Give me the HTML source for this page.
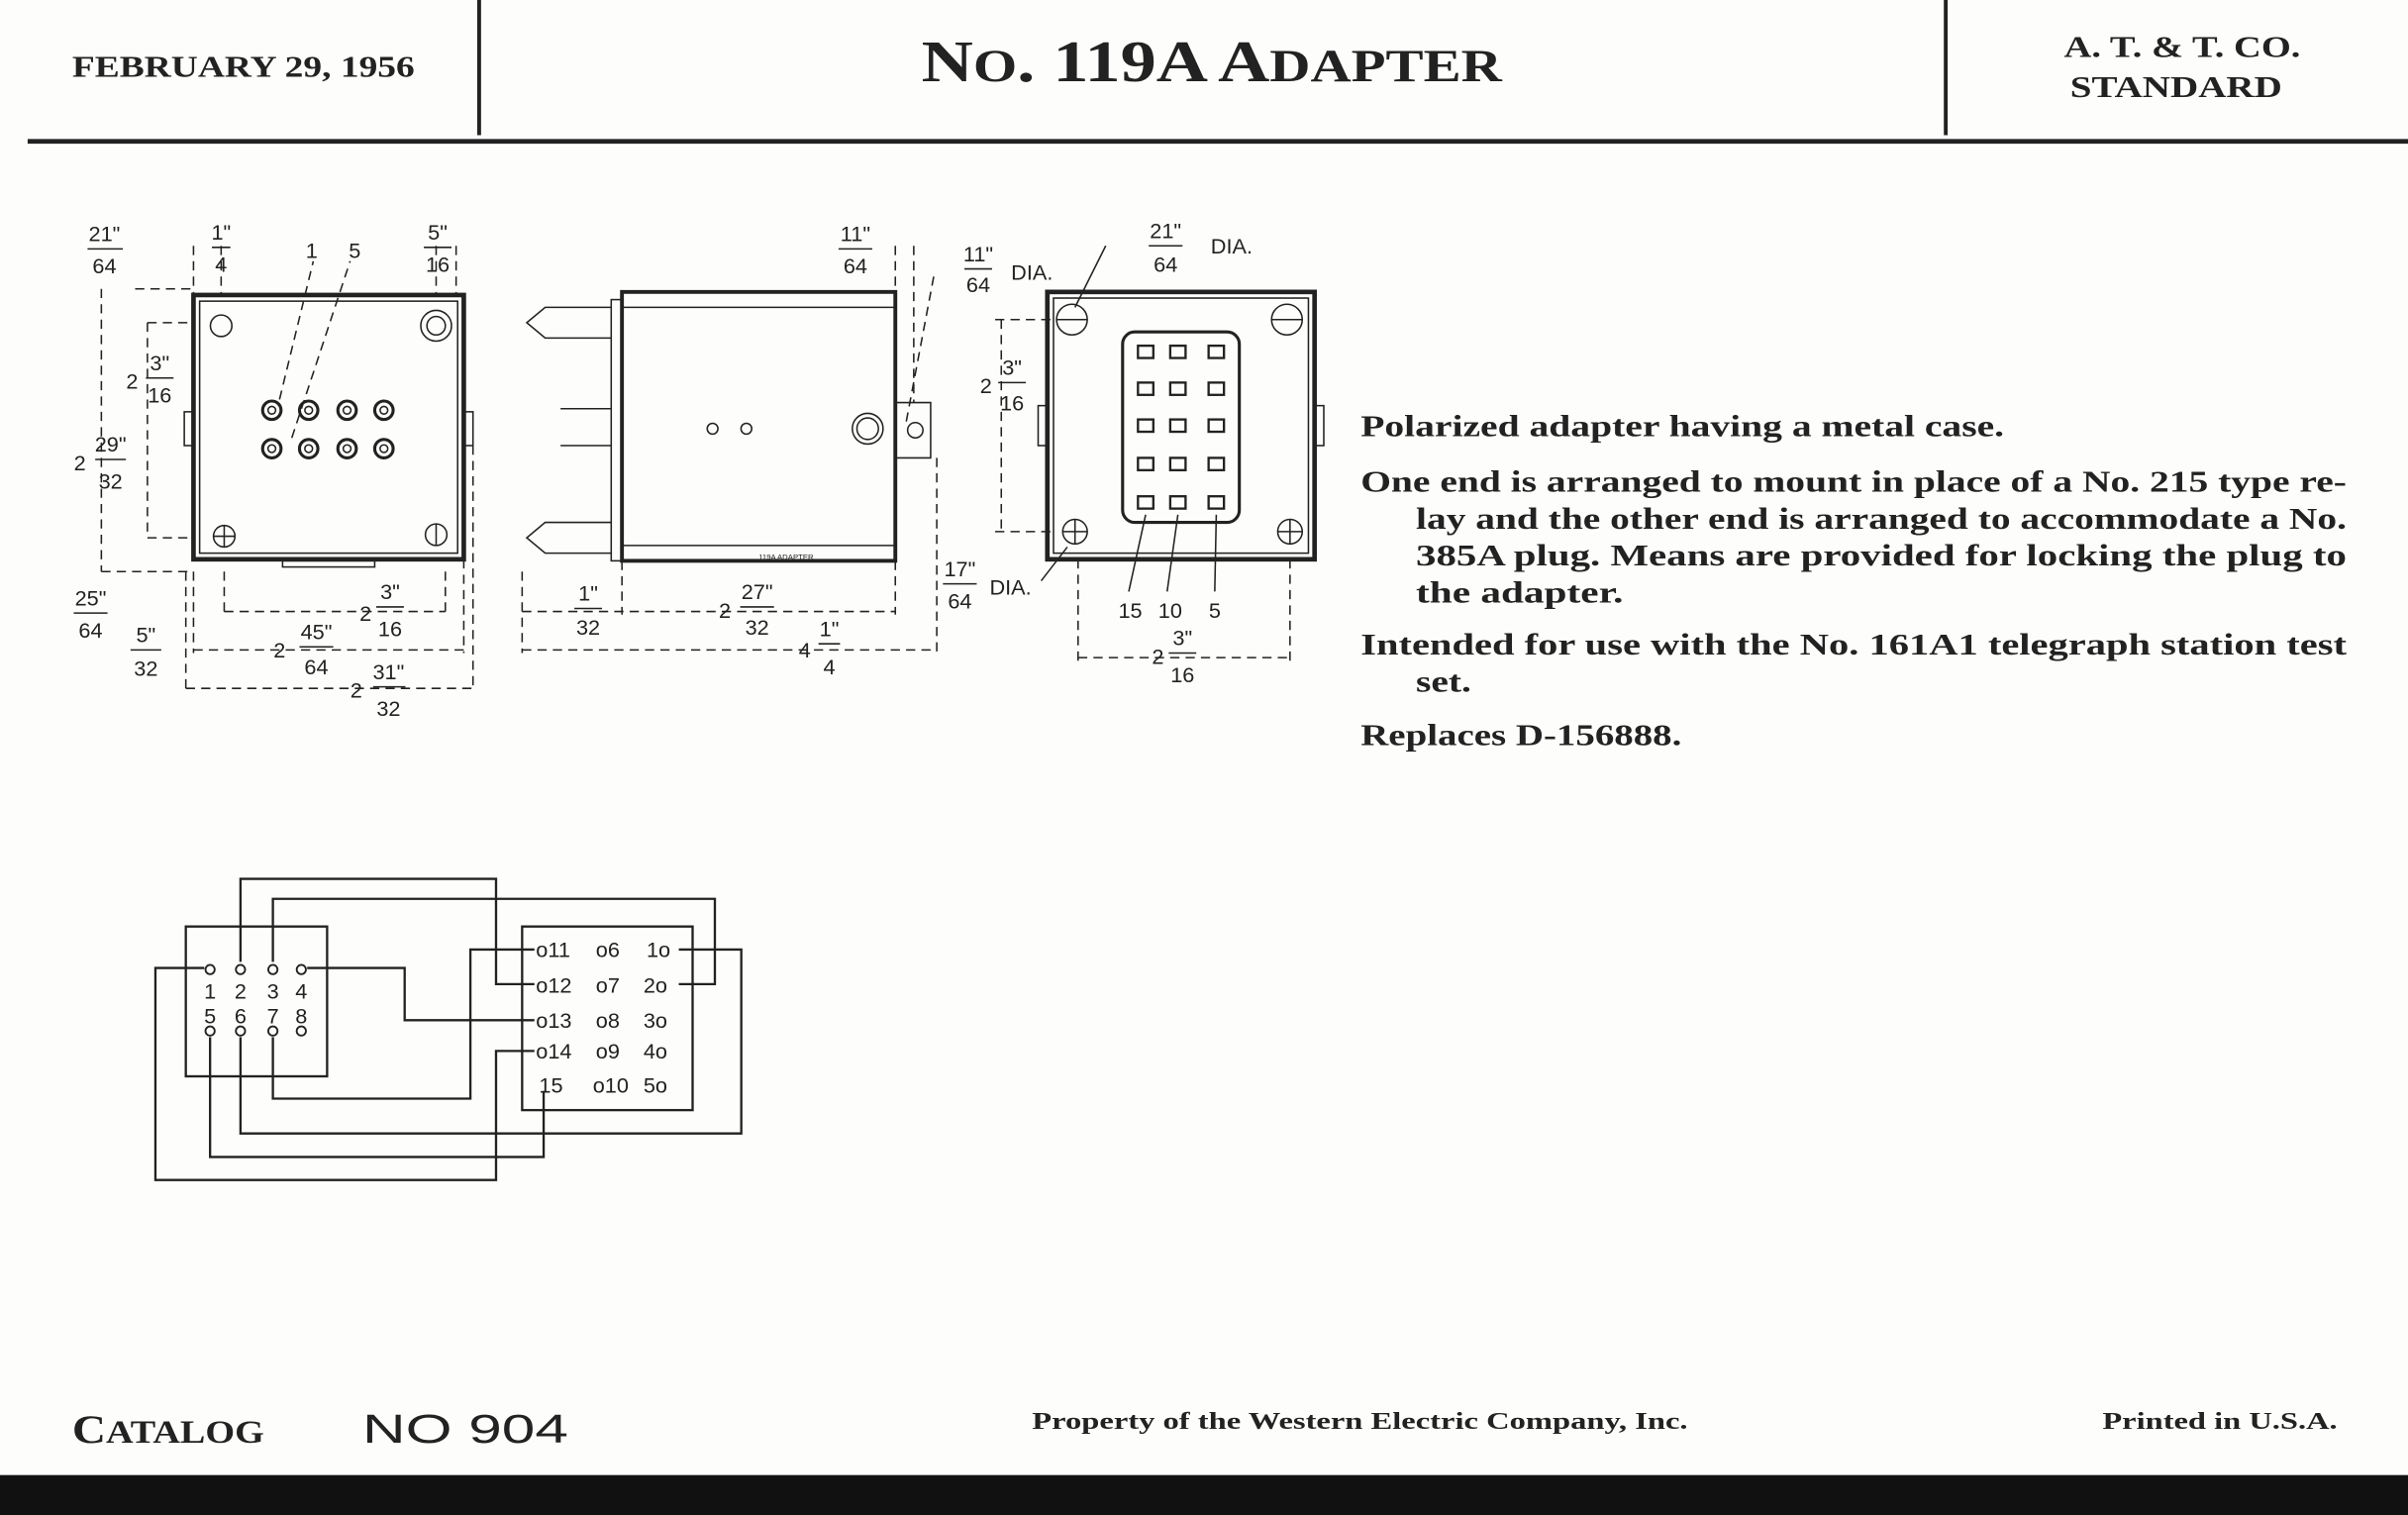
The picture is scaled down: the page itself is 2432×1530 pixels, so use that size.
<!DOCTYPE html>
<html><head><meta charset="utf-8"><style>
html,body{margin:0;padding:0;background:#fdfdfb;}
svg{display:block}
.s{font-family:"Liberation Serif",serif;font-weight:bold;fill:#222}
.d{font-family:"Liberation Sans",sans-serif;fill:#222}
</style></head><body>
<svg width="2432" height="1530" viewBox="0 0 1568 986" preserveAspectRatio="none" xmlns="http://www.w3.org/2000/svg">
<rect width="1568" height="986" fill="#fdfdfb"/>
<rect x="0" y="960" width="1568" height="26" fill="#111"/>
<!-- header -->
<line x1="312" y1="0" x2="312" y2="88" stroke="#222" stroke-width="2.5"/>
<line x1="1267" y1="0" x2="1267" y2="88" stroke="#222" stroke-width="2.5"/>
<line x1="18" y1="92" x2="1568" y2="92" stroke="#222" stroke-width="3"/>
<text class="s" x="47" y="50" font-size="20" textLength="223" lengthAdjust="spacingAndGlyphs">FEBRUARY 29, 1956</text>
<text class="s" x="600" y="53" font-size="38" textLength="378" lengthAdjust="spacingAndGlyphs">N<tspan font-size="30">O</tspan>. 119A A<tspan font-size="30">DAPTER</tspan></text>
<text class="s" x="1344" y="37" font-size="20" textLength="154" lengthAdjust="spacingAndGlyphs">A. T. &amp; T. CO.</text>
<text class="s" x="1348" y="63" font-size="20" textLength="138" lengthAdjust="spacingAndGlyphs">STANDARD</text>

<g stroke="#222" fill="none">
<!-- view 1 -->
<rect x="126" y="192" width="176" height="172" stroke-width="3"/>
<rect x="130" y="196" width="168" height="164" stroke-width="1"/>
<rect x="120" y="268" width="6" height="22"/><rect x="302" y="268" width="6" height="22"/>
<circle cx="144" cy="212" r="7"/><circle cx="284" cy="212" r="10"/><circle cx="284" cy="212" r="6"/>
<circle cx="146" cy="349" r="7"/><circle cx="284" cy="348" r="7"/>
<line x1="146" y1="342" x2="146" y2="356"/><line x1="139" y1="349" x2="153" y2="349"/>
<line x1="284" y1="341" x2="284" y2="355"/>
<g stroke-width="2">
<circle cx="177" cy="267" r="6"/><circle cx="201" cy="267" r="6"/><circle cx="226" cy="267" r="6"/><circle cx="250" cy="267" r="6"/>
<circle cx="177" cy="292" r="6"/><circle cx="201" cy="292" r="6"/><circle cx="226" cy="292" r="6"/><circle cx="250" cy="292" r="6"/>
</g>
<g stroke-width="1">
<circle cx="177" cy="267" r="2.5"/><circle cx="201" cy="267" r="2.5"/><circle cx="226" cy="267" r="2.5"/><circle cx="250" cy="267" r="2.5"/>
<circle cx="177" cy="292" r="2.5"/><circle cx="201" cy="292" r="2.5"/><circle cx="226" cy="292" r="2.5"/><circle cx="250" cy="292" r="2.5"/>
</g>
<rect x="184" y="365" width="60" height="4"/>
<g stroke-dasharray="6,4" stroke-width="1">
<line x1="88" y1="188" x2="126" y2="188"/><line x1="96" y1="210" x2="126" y2="210"/>
<line x1="96" y1="350" x2="126" y2="350"/><line x1="66" y1="372" x2="126" y2="372"/>
<line x1="96" y1="210" x2="96" y2="350"/><line x1="66" y1="188" x2="66" y2="372"/>
<line x1="121" y1="372" x2="121" y2="450"/><line x1="126" y1="372" x2="126" y2="425"/>
<line x1="146" y1="372" x2="146" y2="400"/><line x1="290" y1="372" x2="290" y2="400"/>
<line x1="302" y1="364" x2="302" y2="425"/><line x1="308" y1="290" x2="308" y2="450"/>
<line x1="146" y1="398" x2="290" y2="398"/><line x1="126" y1="423" x2="302" y2="423"/>
<line x1="121" y1="448" x2="308" y2="448"/>
<line x1="144" y1="160" x2="144" y2="192"/><line x1="126" y1="160" x2="126" y2="192"/>
<line x1="284" y1="160" x2="284" y2="192"/><line x1="297" y1="160" x2="297" y2="192"/>
<line x1="182" y1="260" x2="204" y2="170"/><line x1="190" y1="285" x2="228" y2="170"/>
</g>
<!-- view 2 -->
<rect x="405" y="190" width="178" height="175" stroke-width="2.5"/>
<line x1="405" y1="200" x2="583" y2="200" stroke-width="1"/>
<line x1="405" y1="355" x2="583" y2="355" stroke-width="1"/>
<rect x="398" y="195" width="7" height="170"/>
<path d="M398 200 H355 L343 210 L355 220 H398"/><path d="M398 340 H355 L343 350 L355 360 H398"/>
<line x1="365" y1="266" x2="398" y2="266"/><line x1="365" y1="290" x2="398" y2="290"/>
<circle cx="464" cy="279" r="3.5"/><circle cx="486" cy="279" r="3.5"/>
<circle cx="565" cy="279" r="10"/><circle cx="565" cy="279" r="7"/>
<path d="M583 262 H606 V298 H583"/><circle cx="596" cy="280" r="5"/>
<g stroke-dasharray="6,4" stroke-width="1">
<line x1="583" y1="160" x2="583" y2="190"/><line x1="595" y1="160" x2="595" y2="262"/>
<line x1="608" y1="180" x2="590" y2="275"/>
<line x1="610" y1="298" x2="610" y2="425"/><line x1="340" y1="372" x2="340" y2="425"/>
<line x1="405" y1="365" x2="405" y2="400"/><line x1="583" y1="365" x2="583" y2="400"/>
<line x1="340" y1="398" x2="583" y2="398"/><line x1="340" y1="423" x2="610" y2="423"/>
</g>
<!-- view 3 -->
<rect x="682" y="190" width="174" height="174" stroke-width="3"/>
<rect x="686" y="194" width="166" height="166" stroke-width="1"/>
<rect x="676" y="264" width="6" height="26"/><rect x="856" y="264" width="6" height="26"/>
<circle cx="698" cy="208" r="10"/><circle cx="838" cy="208" r="10"/>
<line x1="688" y1="208" x2="708" y2="208"/><line x1="828" y1="208" x2="848" y2="208"/>
<circle cx="700" cy="346" r="8"/><circle cx="840" cy="346" r="8"/>
<line x1="700" y1="338" x2="700" y2="354"/><line x1="692" y1="346" x2="708" y2="346"/>
<line x1="840" y1="338" x2="840" y2="354"/><line x1="832" y1="346" x2="848" y2="346"/>
<rect x="731" y="216" width="76" height="124" rx="8" stroke-width="2"/>
<g stroke-width="1.5">
<rect x="741" y="225" width="10" height="8"/><rect x="762" y="225" width="10" height="8"/><rect x="787" y="225" width="10" height="8"/>
<rect x="741" y="249" width="10" height="8"/><rect x="762" y="249" width="10" height="8"/><rect x="787" y="249" width="10" height="8"/>
<rect x="741" y="273" width="10" height="8"/><rect x="762" y="273" width="10" height="8"/><rect x="787" y="273" width="10" height="8"/>
<rect x="741" y="298" width="10" height="8"/><rect x="762" y="298" width="10" height="8"/><rect x="787" y="298" width="10" height="8"/>
<rect x="741" y="323" width="10" height="8"/><rect x="762" y="323" width="10" height="8"/><rect x="787" y="323" width="10" height="8"/>
</g>
<g stroke-width="1">
<line x1="746" y1="335" x2="735" y2="385"/><line x1="767" y1="335" x2="760" y2="385"/><line x1="792" y1="335" x2="791" y2="385"/>
<line x1="720" y1="160" x2="700" y2="200"/><line x1="678" y1="378" x2="695" y2="356"/>
</g>
<g stroke-dasharray="6,4" stroke-width="1">
<line x1="648" y1="208" x2="688" y2="208"/><line x1="648" y1="346" x2="688" y2="346"/>
<line x1="652" y1="208" x2="652" y2="346"/>
<line x1="702" y1="364" x2="702" y2="430"/><line x1="840" y1="364" x2="840" y2="430"/>
<line x1="702" y1="428" x2="840" y2="428"/>
</g>
<!-- wiring -->
<g stroke-width="1.5">
<rect x="121" y="603" width="92" height="97.5"/>
<rect x="340" y="603" width="111" height="119.5"/>
<polyline points="156.6,626 156.6,572 323,572 323,640.5 348,640.5"/>
<polyline points="177.7,626 177.7,585 465.5,585 465.5,640.5 442,640.5"/>
<polyline points="200,630 263.5,630 263.5,664 348,664"/>
<polyline points="133,630 101.2,630 101.2,768 323,768 323,684 348,684"/>
<polyline points="136.8,675 136.8,753 354,753 354,710"/>
<polyline points="156.6,675 156.6,737.7 482.7,737.7 482.7,618 442,618"/>
<polyline points="177.7,675 177.7,715 306.3,715 306.3,618 348,618"/>
</g>
<g stroke-width="1.2">
<circle cx="136.8" cy="631" r="3"/><circle cx="156.6" cy="631" r="3"/><circle cx="177.7" cy="631" r="3"/><circle cx="196.2" cy="631" r="3"/>
<circle cx="136.8" cy="671" r="3"/><circle cx="156.6" cy="671" r="3"/><circle cx="177.7" cy="671" r="3"/><circle cx="196.2" cy="671" r="3"/>
</g>
</g>
<!-- wiring text -->
<g class="d" font-size="14" text-anchor="middle">
<text x="136.8" y="650">1</text><text x="156.6" y="650">2</text><text x="177.7" y="650">3</text><text x="196.2" y="650">4</text>
<text x="136.8" y="666">5</text><text x="156.6" y="666">6</text><text x="177.7" y="666">7</text><text x="196.2" y="666">8</text>
</g>
<g class="d" font-size="14">
<text x="349" y="623">o11</text><text x="349" y="646">o12</text><text x="349" y="669">o13</text><text x="349" y="689">o14</text><text x="351" y="711">15</text>
<text x="388" y="623">o6</text><text x="388" y="646">o7</text><text x="388" y="669">o8</text><text x="388" y="689">o9</text><text x="386" y="711">o10</text>
<text x="421" y="623">1o</text><text x="419" y="646">2o</text><text x="419" y="669">3o</text><text x="419" y="689">4o</text><text x="419" y="711">5o</text>
</g>
<!-- dimension text -->
<g class="d" font-size="14" text-anchor="middle">
<text x="68" y="157">21"</text><line x1="57" y1="162" x2="80" y2="162" stroke="#222"/><text x="68" y="178">64</text>
<text x="144" y="156">1"</text><line x1="138" y1="161" x2="150" y2="161" stroke="#222"/><text x="144" y="177">4</text>
<text x="203" y="168">1</text><text x="231" y="168">5</text>
<text x="285" y="156">5"</text><line x1="276" y1="161" x2="294" y2="161" stroke="#222"/><text x="285" y="177">16</text>
<text x="86" y="253">2</text><text x="104" y="241">3"</text><line x1="95" y1="246" x2="113" y2="246" stroke="#222"/><text x="104" y="262">16</text>
<text x="52" y="306">2</text><text x="72" y="294">29"</text><line x1="62" y1="299" x2="82" y2="299" stroke="#222"/><text x="72" y="318">32</text>
<text x="59" y="394">25"</text><line x1="48" y1="399" x2="70" y2="399" stroke="#222"/><text x="59" y="415">64</text>
<text x="95" y="418">5"</text><line x1="85" y1="423" x2="105" y2="423" stroke="#222"/><text x="95" y="440">32</text>
<text x="238" y="404">2</text><text x="254" y="390">3"</text><line x1="245" y1="395" x2="263" y2="395" stroke="#222"/><text x="254" y="414">16</text>
<text x="182" y="428">2</text><text x="206" y="416">45"</text><line x1="195" y1="421" x2="217" y2="421" stroke="#222"/><text x="206" y="439">64</text>
<text x="232" y="454">2</text><text x="253" y="442">31"</text><line x1="243" y1="447" x2="264" y2="447" stroke="#222"/><text x="253" y="466">32</text>
<text x="557" y="157">11"</text><line x1="546" y1="162" x2="568" y2="162" stroke="#222"/><text x="557" y="178">64</text>
<text x="637" y="170">11"</text><line x1="628" y1="175" x2="646" y2="175" stroke="#222"/><text x="637" y="190">64</text>
<text x="672" y="182">DIA.</text>
<text x="642" y="256">2</text><text x="659" y="244">3"</text><line x1="650" y1="249" x2="668" y2="249" stroke="#222"/><text x="659" y="267">16</text>
<text x="383" y="391">1"</text><line x1="374" y1="396" x2="392" y2="396" stroke="#222"/><text x="383" y="413">32</text>
<text x="472" y="402">2</text><text x="493" y="390">27"</text><line x1="482" y1="395" x2="504" y2="395" stroke="#222"/><text x="493" y="413">32</text>
<text x="524" y="428">4</text><text x="540" y="414">1"</text><line x1="533" y1="419" x2="547" y2="419" stroke="#222"/><text x="540" y="439">4</text>
<text x="625" y="375">17"</text><line x1="614" y1="380" x2="636" y2="380" stroke="#222"/><text x="625" y="396">64</text>
<text x="658" y="387">DIA.</text>
<text x="759" y="155">21"</text><line x1="748" y1="160" x2="770" y2="160" stroke="#222"/><text x="759" y="177">64</text>
<text x="802" y="165">DIA.</text>
<text x="736" y="402">15</text><text x="762" y="402">10</text><text x="791" y="402">5</text>
<text x="754" y="432">2</text><text x="770" y="420">3"</text><line x1="761" y1="425" x2="779" y2="425" stroke="#222"/><text x="770" y="444">16</text>
</g>
<text x="494" y="364" font-size="5" class="d">119A ADAPTER</text>
<!-- description -->
<g class="s" font-size="20" lengthAdjust="spacingAndGlyphs">
<text x="886" y="284" textLength="419" lengthAdjust="spacingAndGlyphs">Polarized adapter having a metal case.</text>
<text x="886" y="320" textLength="642" lengthAdjust="spacingAndGlyphs">One end is arranged to mount in place of a No. 215 type re-</text>
<text x="922" y="344" textLength="606" lengthAdjust="spacingAndGlyphs">lay and the other end is arranged to accommodate a No.</text>
<text x="922" y="368" textLength="606" lengthAdjust="spacingAndGlyphs">385A plug.  Means are provided for locking the plug to</text>
<text x="922" y="392" textLength="135" lengthAdjust="spacingAndGlyphs">the adapter.</text>
<text x="886" y="426" textLength="642" lengthAdjust="spacingAndGlyphs">Intended for use with the No. 161A1 telegraph station test</text>
<text x="922" y="450" textLength="36" lengthAdjust="spacingAndGlyphs">set.</text>
<text x="886" y="485" textLength="209" lengthAdjust="spacingAndGlyphs">Replaces D-156888.</text>
</g>
<!-- footer -->
<text class="s" x="47" y="939" font-size="26" textLength="125" lengthAdjust="spacingAndGlyphs">C<tspan font-size="21">ATALOG</tspan></text>
<text class="d" x="236" y="939" font-size="26" textLength="134" lengthAdjust="spacingAndGlyphs">NO 904</text>
<text class="s" x="672" y="930" font-size="15.5" textLength="427" lengthAdjust="spacingAndGlyphs">Property of the Western Electric Company, Inc.</text>
<text class="s" x="1369" y="930" font-size="15.5" textLength="153" lengthAdjust="spacingAndGlyphs">Printed in U.S.A.</text>
</svg>
</body></html>
